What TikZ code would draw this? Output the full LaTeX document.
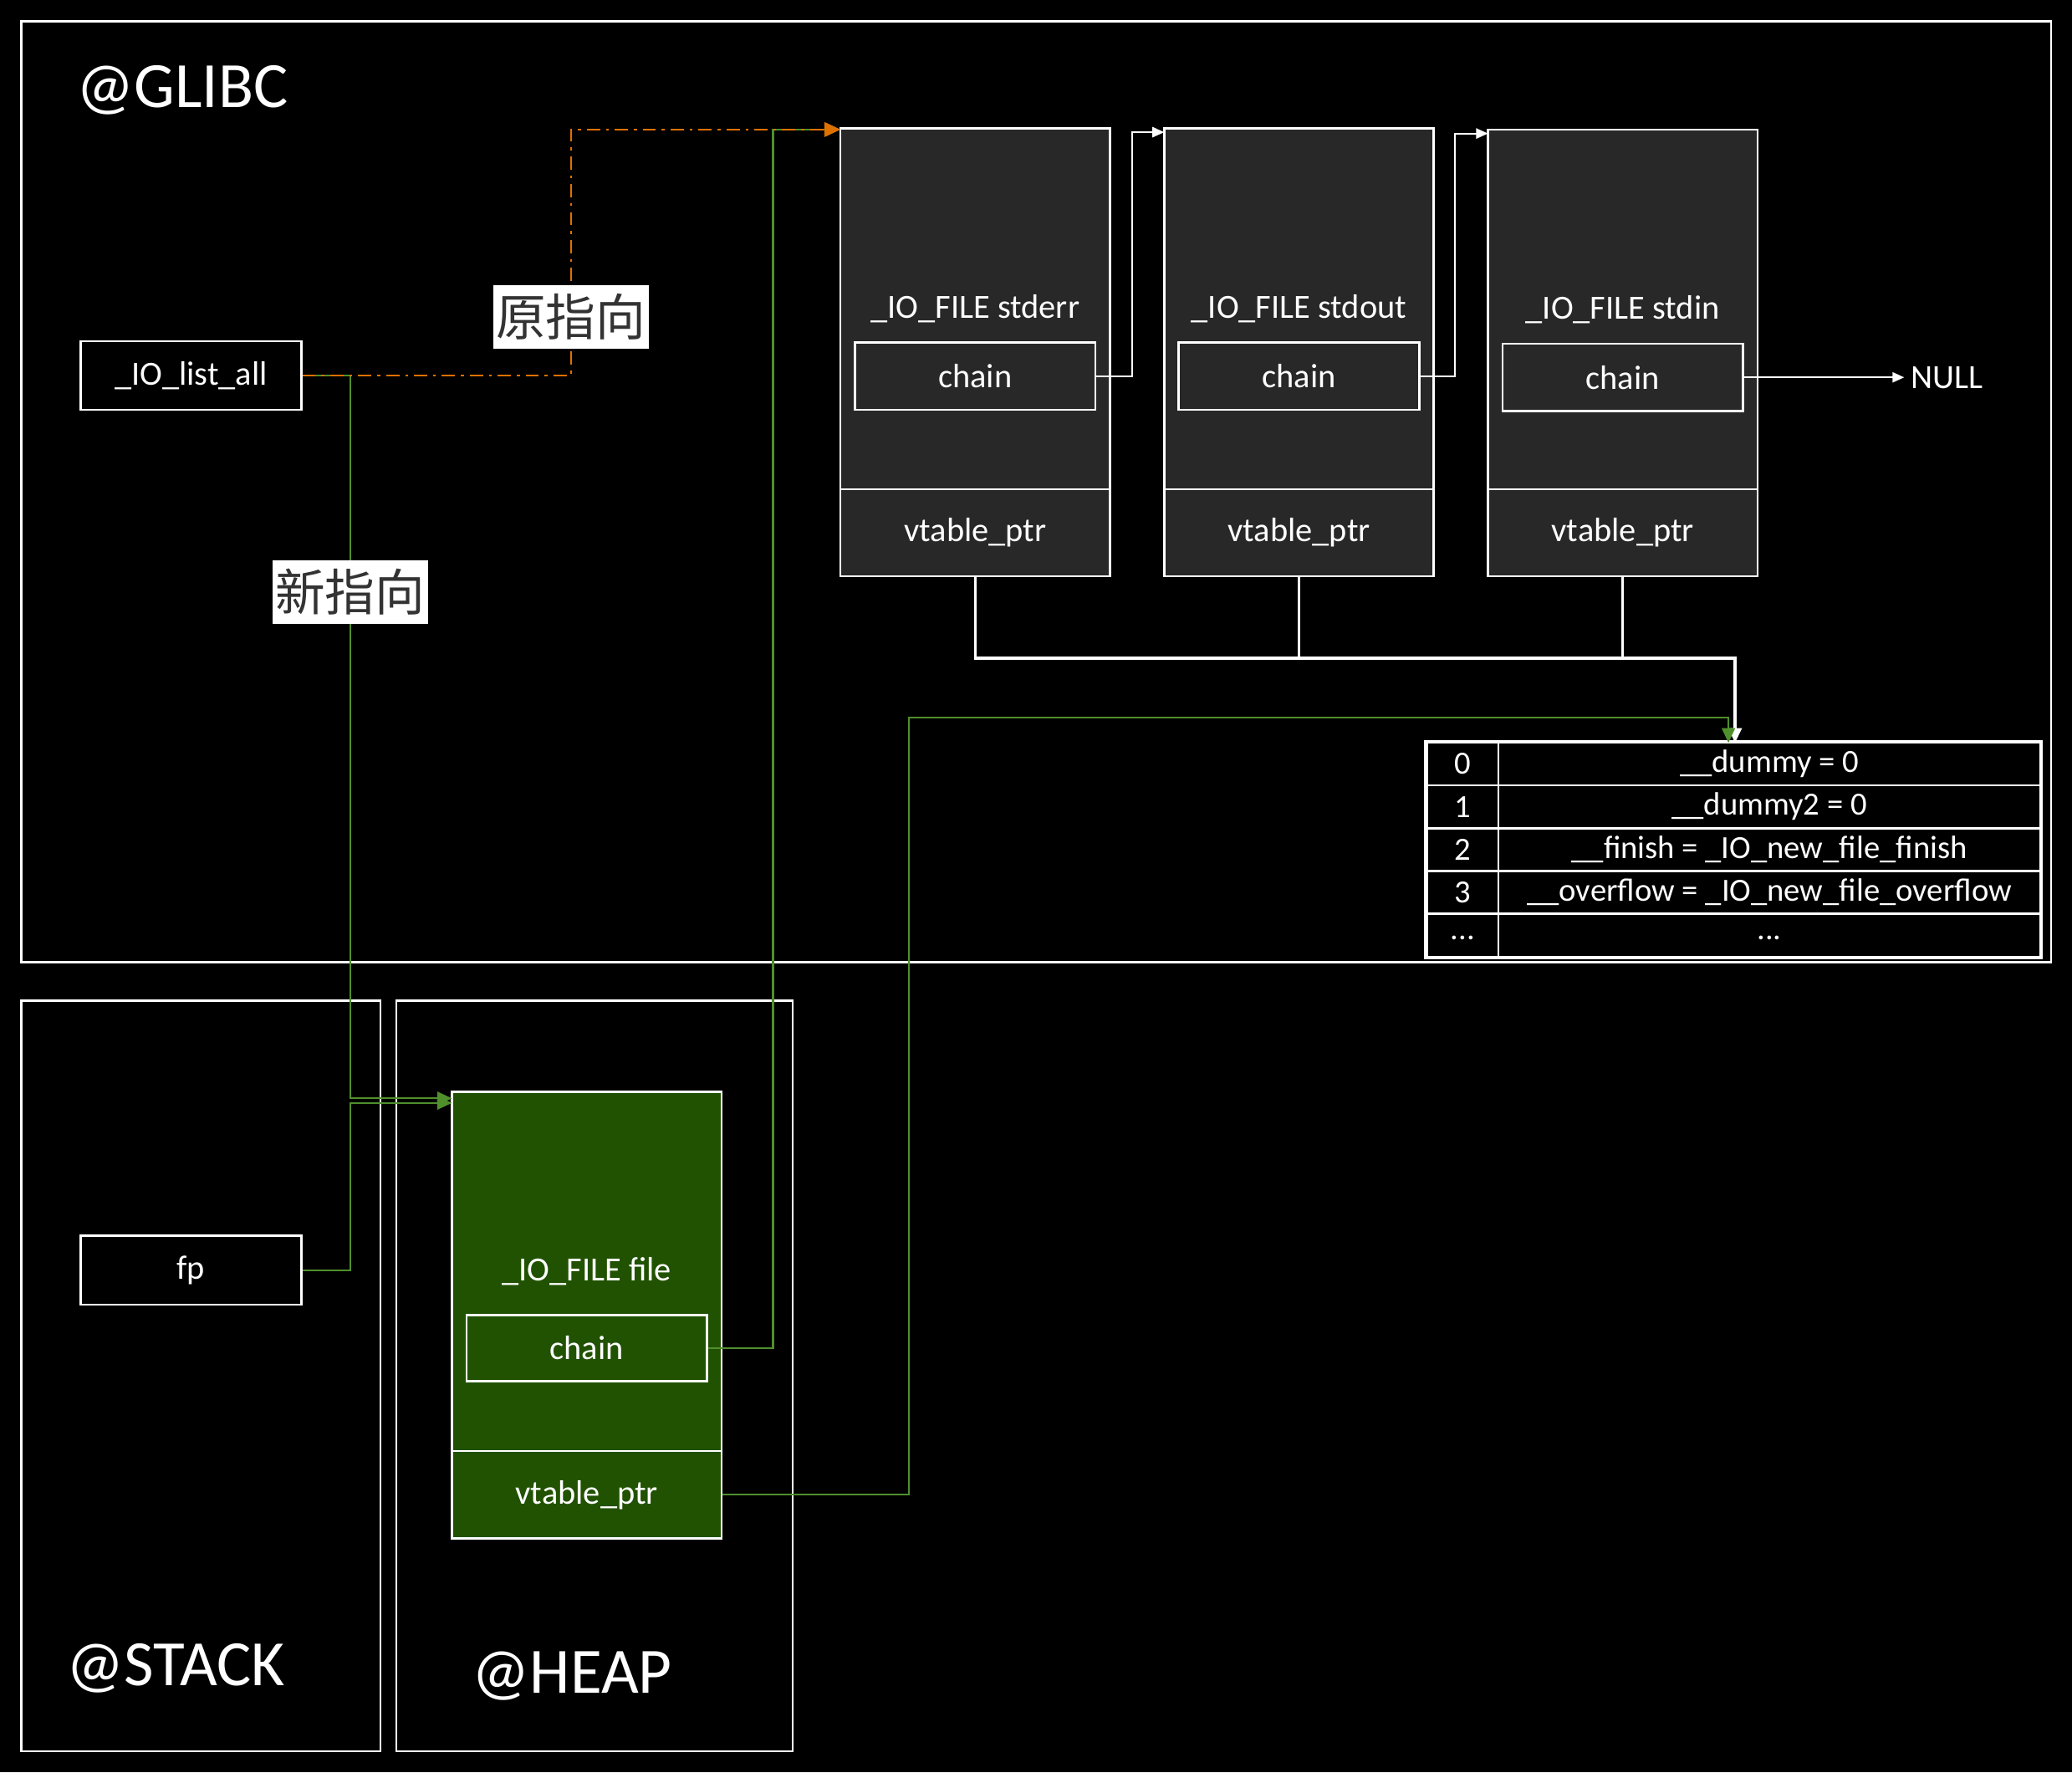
\documentclass[tikz,border=0pt]{standalone}
\usepackage{fontspec}
\setmainfont{Carlito}
\newfontfamily\cjk{Noto Sans CJK SC}
\usepackage{tikz}
\usetikzlibrary{arrows.meta}
\definecolor{filegray}{HTML}{282828}
\definecolor{heapgreen}{HTML}{215202}
\definecolor{greenptrc}{HTML}{4F8F2C}
\definecolor{orangeptrc}{HTML}{E07000}
\definecolor{cntext}{HTML}{333333}

\tikzset{
  sz/.style 2 args={minimum width=#1*0.015804cm, minimum height=#2*0.015804cm},
  region/.style={draw=white, line width=0.7pt},
  regiontitle/.style={text=white, font=\fontsize{22}{26}\selectfont},
  filebox/.style={draw=white, fill=filegray, line width=0.7pt, text=white, inner sep=0pt, font=\fontsize{11.5}{14}\selectfont},
  heapbox/.style={filebox, fill=heapgreen},
  cell/.style={draw=white, line width=0.7pt, text=white, inner sep=0pt, font=\fontsize{11}{13}\selectfont},
  varbox/.style={cell, fill=black, font=\fontsize{11.5}{14}\selectfont},
  cnlabel/.style={fill=white, text=cntext, font=\cjk\fontsize{17}{20}\selectfont, inner xsep=1pt, inner ysep=3pt},
  chainline/.style={draw=white, line width=0.5pt, -{Triangle[length=4pt,width=3.5pt]}},
  vtline/.style={draw=white, line width=1pt, -{Triangle[length=5pt,width=4.5pt]}},
  greenptr/.style={draw=greenptrc, line width=0.6pt, -{Triangle[length=5pt,width=4.5pt]}},
  oldptr/.style={draw=orangeptrc, line width=0.6pt, dash pattern=on 4.5pt off 2pt on 1pt off 2pt, -{Triangle[length=5.5pt,width=5pt]}},
}

\begin{document}
\begin{tikzpicture}[x=0.015804cm, y=-0.015804cm]
  \fill[black] (0,0) rectangle (1568,1341);
  \useasboundingbox (0,0) rectangle (1568,1341);

  % regions
  \draw[region] (16,16) rectangle (1552,728);
  \draw[region] (16,757) rectangle (288,1325);
  \draw[region] (300,757) rectangle (600,1325);
  \node[regiontitle] (glibc) at (138,68) {@GLIBC};
  \node[regiontitle] (stack) at (133,1262) {@STACK};
  \node[regiontitle] (heap) at (433,1268) {@HEAP};

  % glibc side
  \node[varbox, sz={167}{52}] (listall) at (144.5,284) {\_IO\_list\_all};

  \node[filebox, sz={204}{273}] (stderr) at (738,233.5) {\_IO\_FILE stderr};
  \node[filebox, sz={182}{51}] (stderrch) at (738,284.5) {chain};
  \node[filebox, sz={204}{66}] (stderrvt) at (738,403) {vtable\_ptr};

  \node[filebox, sz={204}{273}] (stdout) at (983,233.5) {\_IO\_FILE stdout};
  \node[filebox, sz={182}{51}] (stdoutch) at (983,284.5) {chain};
  \node[filebox, sz={204}{66}] (stdoutvt) at (983,403) {vtable\_ptr};

  \node[filebox, sz={204}{272}] (stdin) at (1228,234) {\_IO\_FILE stdin};
  \node[filebox, sz={182}{51}] (stdinch) at (1228,285.5) {chain};
  \node[filebox, sz={204}{66}] (stdinvt) at (1228,403) {vtable\_ptr};

  \node[text=white, font=\fontsize{11.5}{14}\selectfont, anchor=west, inner sep=2pt] (null) at (1441,285.5) {NULL};

  % vtable
  \node[cell, sz={54}{32.4}] (idx0) at (1107,578) {0};
  \node[cell, sz={410}{32.4}] (val0) at (1339,578) {\_\_dummy = 0};
  \node[cell, sz={54}{32.4}] (idx1) at (1107,610.4) {1};
  \node[cell, sz={410}{32.4}] (val1) at (1339,610.4) {\_\_dummy2 = 0};
  \node[cell, sz={54}{32.4}] (idx2) at (1107,642.8) {2};
  \node[cell, sz={410}{32.4}] (val2) at (1339,642.8) {\_\_finish = \_IO\_new\_file\_finish};
  \node[cell, sz={54}{32.4}] (idx3) at (1107,675.2) {3};
  \node[cell, sz={410}{32.4}] (val3) at (1339,675.2) {\_\_overflow = \_IO\_new\_file\_overflow};
  \node[cell, sz={54}{32.4}] (idx4) at (1107,707.6) {\raisebox{-3pt}{...}};
  \node[cell, sz={410}{32.4}] (val4) at (1339,707.6) {\raisebox{-3pt}{...}};
  \draw[white, line width=1.2pt] (idx0.north west) rectangle (val4.south east);

  % stack / heap side
  \node[varbox, sz={167}{52}] (fp) at (144.5,961) {fp};
  \node[heapbox, sz={204}{272}] (file) at (444,962) {\_IO\_FILE file};
  \node[heapbox, sz={182}{50}] (filech) at (444,1020) {chain};
  \node[heapbox, sz={204}{66}] (filevt) at (444,1131) {vtable\_ptr};

  \coordinate (stderrin) at (636,98);
  \coordinate (stdoutin) at (881,100);
  \coordinate (stdinin) at (1126,101);
  \coordinate (filein) at (342,831);
  \coordinate (filein2) at (342,834.5);
  \coordinate (vtjoin) at (1313,498);
  \coordinate (tblin) at (1313,562);
  \coordinate (tblgreenin) at (1308,562);

  % file list
  \draw[chainline] (stderrch.east) -- ++(27,0) |- (stdoutin);
  \draw[chainline] (stdoutch.east) -- ++(26,0) |- (stdinin);
  \draw[chainline] (stdinch.east) -- (null.west);

  % vtable pointers
  \draw[vtline] (stderrvt.south) |- (vtjoin) -- (tblin);
  \draw[white, line width=1pt] (stdoutvt.south) -- (stdoutvt.south |- vtjoin);
  \draw[white, line width=1pt] (stdinvt.south) -- (stdinvt.south |- vtjoin);

  % fake file
  \draw[greenptr] (filevt.east) -- (688,1131) -- (688,543) -- (1308,543) -- (tblgreenin);
  \draw[greenptr] (filech.east) -- (585,1020) -- (585,98) -- (stderrin);
  \draw[greenptr] (fp.east) -- (265,961) -- (265,834.5) -- (filein2);
  \draw[greenptr] (listall.east) -- (265,284) -- node[cnlabel, pos=0.3] (newlbl) {新指向} (265,831) -- (filein);

  % old pointer
  \draw[oldptr] (listall.east) -- (432,284) -- node[cnlabel, pos=0.237] (oldlbl) {原指向} (432,98) -- (stderrin);
\end{tikzpicture}
\end{document}
